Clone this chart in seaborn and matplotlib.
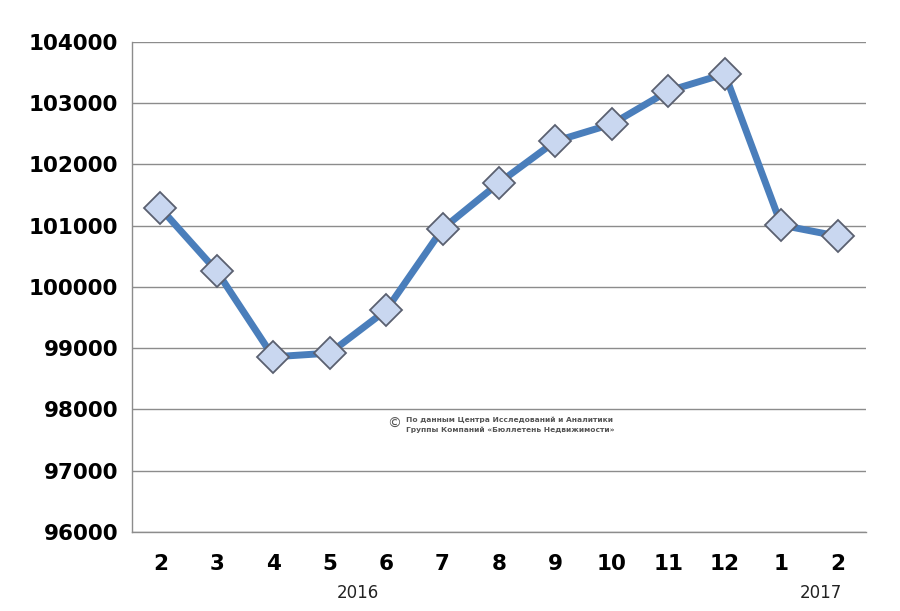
import numpy as np
import pandas as pd
import matplotlib
matplotlib.use("Agg")
import matplotlib.pyplot as plt
from matplotlib.ticker import FixedLocator
import seaborn as sns

months = ["2", "3", "4", "5", "6", "7", "8", "9", "10", "11", "12", "1", "2"]
values = [101290, 100260, 98860, 98920, 99620, 100950, 101700, 102380,
          102660, 103200, 103480, 101010, 100830]
years = ["2016", "2017"]

sns.set_theme(style="white")
plt.rcParams['font.family'] = ['DejaVu Sans']

df = pd.DataFrame({"pos": np.arange(len(months)), "value": values})

fig = plt.figure(figsize=(9, 6.11), dpi=100)
ax = fig.add_axes([0.1467, 0.1293, 0.8155, 0.802])

sns.lineplot(data=df, x="pos", y="value", ax=ax, color="#4A7EBB", linewidth=5,
             marker="D", markersize=16, markerfacecolor="#C9D7F0",
             markeredgecolor="#5A6070", markeredgewidth=1.3, zorder=3)

ax.set_xlim(-0.5, len(months) - 0.5)
ax.set_ylim(96000, 104000)
ax.set_yticks(np.arange(96000, 104001, 1000))
ax.yaxis.grid(True, color="#8C8C8C", linewidth=1)
ax.set_axisbelow(True)

ax.set_xticks(df["pos"])
ax.set_xticklabels(months)
ax.xaxis.set_minor_locator(FixedLocator(np.arange(-0.5, len(months), 1)))
ax.tick_params(axis="x", which="major", length=0, pad=16, labelsize=15.5)
ax.tick_params(axis="x", which="minor", length=7, color="#8C8C8C", width=1, direction="out")
ax.tick_params(axis="y", length=6, color="#8C8C8C", width=1, direction="out", labelsize=15.5, pad=4)
for lab in ax.get_xticklabels() + ax.get_yticklabels():
    lab.set_fontweight("bold")
    lab.set_color("black")

for side in ["top", "right"]:
    ax.spines[side].set_visible(False)
for side in ["left", "bottom"]:
    ax.spines[side].set_color("#8C8C8C")
    ax.spines[side].set_linewidth(1)

ax.set_xlabel("")
ax.set_ylabel("")

ax.text(3.5, -0.125, years[0], transform=ax.get_xaxis_transform(),
        ha="center", va="center", fontsize=12, color="#222222")
ax.text(11.7, -0.125, years[1], transform=ax.get_xaxis_transform(),
        ha="center", va="center", fontsize=12, color="#222222")

ax.text(4.14, 97760, "©", fontsize=10, color="#555555", ha="center", va="center")
ax.text(4.35, 97840, "По данным Центра Исследований и Аналитики",
        fontsize=5.4, color="#555555", fontweight="bold", ha="left", va="center")
ax.text(4.35, 97670, "Группы Компаний «Бюллетень Недвижимости»",
        fontsize=5.4, color="#555555", fontweight="bold", ha="left", va="center")

fig.savefig("out.png", dpi=100)
